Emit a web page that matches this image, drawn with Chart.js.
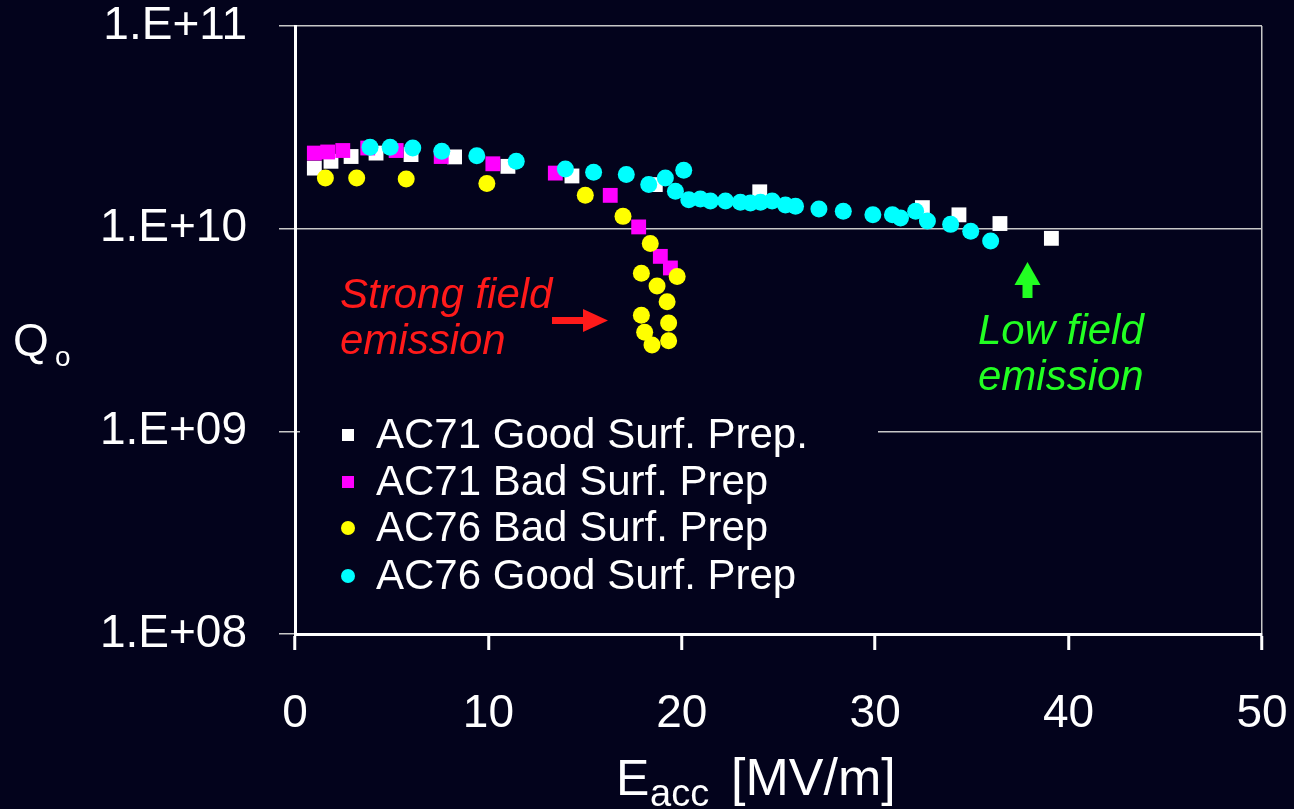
<!DOCTYPE html>
<html>
<head>
<meta charset="utf-8">
<script src="https://cdn.jsdelivr.net/npm/chart.js@4.4.0/dist/chart.umd.min.js"></script>
<style>
  html, body { margin: 0; padding: 0; background: #03031c; }
  canvas { display: block; }
</style>
</head>
<body>
<canvas id="chart" width="1294" height="809"></canvas>
<script>
// axis ticks
const xTicks = [0, 10, 20, 30, 40, 50];
const yTicks = [1e8, 1e9, 1e10, 1e11];

// AC71 Good Surf. Prep. (white squares)
const ac71GoodX = [1.0, 1.86, 2.90, 4.19, 6.00, 8.25, 11.01, 14.32, 18.63, 24.03, 32.44, 34.33, 36.45, 39.11];
const ac71GoodQ = [1.99e10, 2.15e10, 2.27e10, 2.36e10, 2.32e10, 2.26e10, 2.03e10, 1.82e10, 1.65e10, 1.52e10, 1.27e10, 1.17e10, 1.06e10, 8.96e9];

// AC71 Bad Surf. Prep (magenta squares)
const ac71BadX = [1.0, 1.69, 2.47, 3.76, 5.23, 7.56, 10.23, 13.46, 16.30, 17.77, 18.89, 19.41];
const ac71BadQ = [2.36e10, 2.39e10, 2.43e10, 2.50e10, 2.43e10, 2.27e10, 2.09e10, 1.88e10, 1.46e10, 1.02e10, 7.3e9, 6.4e9];

// AC76 Bad Surf. Prep (yellow circles)
const ac76BadX = [1.57, 3.19, 5.75, 9.92, 15.01, 16.96, 18.37, 17.91, 18.72, 19.76, 19.24, 17.91, 19.32, 18.08, 18.46, 19.32];
const ac76BadQ = [1.78e10, 1.78e10, 1.76e10, 1.67e10, 1.46e10, 1.15e10, 8.45e9, 6.03e9, 5.22e9, 5.80e9, 4.36e9, 3.74e9, 3.42e9, 3.08e9, 2.67e9, 2.80e9];

// AC76 Good Surf. Prep (cyan circles)
const ac76GoodX = [3.88, 4.92, 6.09, 7.59, 9.40, 11.44, 13.98, 15.44, 17.13, 18.29, 19.15, 20.10, 19.67, 20.36, 20.96, 21.48, 22.26,
  23.03, 23.55, 24.07, 24.67, 25.36, 25.88, 27.09, 28.35, 29.88, 30.89, 31.31, 32.09, 32.70, 33.90, 34.94, 35.97];
const ac76GoodQ = [2.52e10, 2.52e10, 2.50e10, 2.41e10, 2.29e10, 2.15e10, 1.97e10, 1.90e10, 1.85e10, 1.65e10, 1.78e10, 1.94e10, 1.53e10, 1.39e10, 1.40e10, 1.37e10, 1.37e10,
  1.35e10, 1.34e10, 1.35e10, 1.37e10, 1.31e10, 1.29e10, 1.25e10, 1.22e10, 1.17e10, 1.17e10, 1.13e10, 1.22e10, 1.09e10, 1.05e10, 9.7e9, 8.7e9];

const seriesNames = ['AC71 Good Surf. Prep.', 'AC71 Bad Surf. Prep', 'AC76 Bad Surf. Prep', 'AC76 Good Surf. Prep'];

const BG = '#03031c';
const FONT = '"Liberation Sans", Arial, sans-serif';
const colors = ['#ffffff', '#ff00ff', '#ffff00', '#00ffff'];

function pts(xs, ys) {
  return xs.map((x, i) => ({ x: x, y: ys[i] }));
}

const overlay = {
  id: 'overlay',
  beforeDraw(chart) {
    const ctx = chart.ctx;
    ctx.save();
    ctx.fillStyle = BG;
    ctx.fillRect(0, 0, chart.width, chart.height);
    ctx.restore();
  },
  afterDraw(chart) {
    const ctx = chart.ctx;
    ctx.save();

    // legend inside the plot, covering the grid line
    ctx.fillStyle = BG;
    ctx.fillRect(300, 408, 578, 192);
    const rows = [435, 482, 528, 576];
    ctx.font = '42px ' + FONT;
    ctx.textBaseline = 'middle';
    ctx.textAlign = 'left';
    seriesNames.forEach((name, i) => {
      ctx.fillStyle = colors[i];
      if (i < 2) {
        ctx.fillRect(342, rows[i] - 6, 12, 12);
      } else {
        ctx.beginPath();
        ctx.arc(348, rows[i], 7, 0, Math.PI * 2);
        ctx.fill();
      }
      ctx.fillStyle = '#ffffff';
      ctx.fillText(name, 376, rows[i] + 1);
    });

    // y axis title  Q_o
    ctx.textBaseline = 'alphabetic';
    ctx.fillStyle = '#ffffff';
    ctx.font = '46px ' + FONT;
    ctx.fillText('Q', 13, 356);
    ctx.font = '28px ' + FONT;
    ctx.fillText('o', 55, 366);

    // x axis title  E_acc [MV/m]
    ctx.font = '50px ' + FONT;
    ctx.fillText('E', 616, 795);
    ctx.font = '38px ' + FONT;
    ctx.fillText('acc', 650, 806);
    ctx.font = '52px ' + FONT;
    ctx.fillText('[MV/m]', 731, 795);

    // annotations
    ctx.font = 'italic 42px ' + FONT;
    ctx.fillStyle = '#ff1a1a';
    ctx.fillText('Strong field', 340, 308);
    ctx.fillText('emission', 340, 354);
    ctx.fillRect(552, 317, 32, 7);
    ctx.beginPath();
    ctx.moveTo(583, 309);
    ctx.lineTo(608, 320.5);
    ctx.lineTo(583, 332);
    ctx.closePath();
    ctx.fill();

    ctx.fillStyle = '#22ff22';
    ctx.fillText('Low field', 978, 344);
    ctx.fillText('emission', 978, 390);
    ctx.beginPath();
    ctx.moveTo(1027.5, 262);
    ctx.lineTo(1040.5, 285);
    ctx.lineTo(1014.5, 285);
    ctx.closePath();
    ctx.fill();
    ctx.fillRect(1022.5, 284, 10, 14);

    ctx.restore();
  }
};

new Chart(document.getElementById('chart').getContext('2d'), {
  type: 'scatter',
  data: {
    datasets: [
      { label: seriesNames[0], data: pts(ac71GoodX, ac71GoodQ), pointStyle: 'rect', pointRadius: 10.5,
        backgroundColor: colors[0], borderWidth: 0, order: 4 },
      { label: seriesNames[1], data: pts(ac71BadX, ac71BadQ), pointStyle: 'rect', pointRadius: 10.5,
        backgroundColor: colors[1], borderWidth: 0, order: 3 },
      { label: seriesNames[2], data: pts(ac76BadX, ac76BadQ), pointStyle: 'circle', pointRadius: 8.5,
        backgroundColor: colors[2], borderWidth: 0, order: 2 },
      { label: seriesNames[3], data: pts(ac76GoodX, ac76GoodQ), pointStyle: 'circle', pointRadius: 8.5,
        backgroundColor: colors[3], borderWidth: 0, order: 1 }
    ]
  },
  options: {
    responsive: false,
    animation: false,
    layout: { padding: { top: 26, right: 32, left: 0, bottom: 0 } },
    plugins: {
      legend: { display: false },
      tooltip: { enabled: false }
    },
    scales: {
      x: {
        type: 'linear',
        min: 0,
        max: 50,
        afterBuildTicks: scale => { scale.ticks = xTicks.map(v => ({ value: v })); },
        afterFit: scale => {
          scale.height = 175;
          scale.paddingLeft = 0;
          scale.paddingRight = 0;
        },
        ticks: {
          color: '#ffffff',
          font: { family: FONT, size: 46, lineHeight: 1 },
          padding: 41
        },
        grid: {
          drawOnChartArea: true,
          color: c => (c.tick && c.tick.value === 50) ? '#c8c8c8' : 'rgba(0,0,0,0)',
          lineWidth: 1.5,
          tickColor: '#ffffff',
          tickWidth: 3,
          tickLength: 16
        },
        border: { display: true, color: '#ffffff', width: 3 }
      },
      y: {
        type: 'logarithmic',
        min: 1e8,
        max: 1e11,
        afterBuildTicks: scale => { scale.ticks = yTicks.map(v => ({ value: v })); },
        afterFit: scale => {
          scale.width = 295;
          scale.paddingTop = 0;
          scale.paddingBottom = 0;
        },
        ticks: {
          color: '#ffffff',
          font: { family: FONT, size: 46, lineHeight: 1 },
          padding: 32,
          callback: v => '1.E+' + String(Math.round(Math.log10(v))).padStart(2, '0')
        },
        grid: {
          color: '#c8c8c8',
          lineWidth: 1.5,
          tickColor: '#c8c8c8',
          tickWidth: 1.5,
          tickLength: 16
        },
        border: { display: true, color: '#ffffff', width: 3 }
      }
    }
  },
  plugins: [overlay]
});
</script>
</body>
</html>
